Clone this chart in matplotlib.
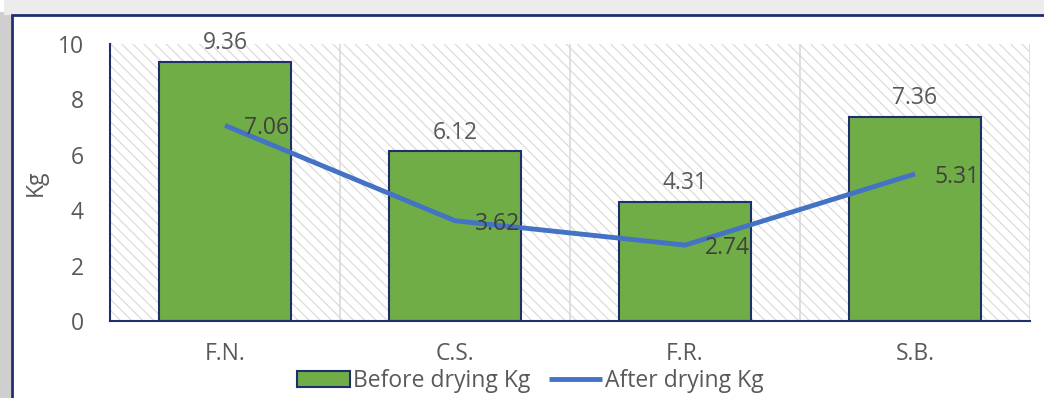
import matplotlib
matplotlib.use("Agg")
import matplotlib.pyplot as plt
from matplotlib.patches import Rectangle
import numpy as np

categories = ["F.N.", "C.S.", "F.R.", "S.B."]
before = [9.36, 6.12, 4.31, 7.36]
after = [7.06, 3.62, 2.74, 5.31]
yticks = [0, 2, 4, 6, 8, 10]

plt.rcParams['font.family'] = ['Open Sans', 'DejaVu Sans']
plt.rcParams['hatch.linewidth'] = 0.9
plt.rcParams['hatch.color'] = '#dcdcdc'

gray = '#595959'
navy = '#1f2f6e'
green = '#70ad47'
blue = '#4472c4'
FS = 16.5

fig = plt.figure(figsize=(10.44, 3.98), dpi=100)

# shadow and outer frame
fig.patches.append(Rectangle((0.0, 0.0), 0.011, 0.97, transform=fig.transFigure,
                             facecolor='#cfcfcf', edgecolor='none', zorder=0))
fig.patches.append(Rectangle((0.004, 0.962), 0.996, 0.038, transform=fig.transFigure,
                             facecolor='#ececec', edgecolor='none', zorder=0))
fig.patches.append(Rectangle((12/1044, -0.01), 1.0, (398-15)/398 + 0.01, transform=fig.transFigure,
                             facecolor='white', edgecolor=navy, linewidth=2.0, zorder=1))

ax = fig.add_axes([110/1044, 77/398, 920/1044, 277/398])
ax.set_zorder(2)
ax.patch.set_alpha(0)

x = np.arange(len(categories))
ax.set_xlim(-0.5, len(categories) - 0.5)
ax.set_ylim(0, 10)

# hatched background
ax.add_patch(Rectangle((-0.5, 0), len(categories), 10, facecolor='white',
                       edgecolor='#dcdcdc', hatch='\\\\\\', linewidth=0, zorder=0))
for b in np.arange(0.5, len(categories), 1.0):
    ax.axvline(b, color='#d9d9d9', linewidth=1.2, zorder=1)

bars = ax.bar(x, before, width=0.57, color=green, edgecolor=navy, linewidth=1.5,
              zorder=2, label='Before drying Kg')
line, = ax.plot(x, after, color=blue, linewidth=3.5, zorder=3, label='After drying Kg',
                solid_capstyle='butt')

for xi, v in zip(x, before):
    ax.annotate(f"{v:.2f}", (xi, v), xytext=(0, 5), textcoords='offset points',
                ha='center', va='bottom', fontsize=FS, color=gray, zorder=4)
for xi, v in zip(x, after):
    ax.annotate(f"{v:.2f}", (xi, v), xytext=(14, -2), textcoords='offset points',
                ha='left', va='center', fontsize=FS, color='#404040', zorder=4)

ax.set_yticks(yticks)
ax.set_yticklabels([str(t) for t in yticks], fontsize=FS, color=gray)
ax.set_xticks(x)
ax.set_xticklabels(categories, fontsize=FS, color=gray)
ax.tick_params(axis='both', length=0)
ax.tick_params(axis='y', pad=19)
ax.tick_params(axis='x', pad=15)
ax.set_ylabel('Kg', fontsize=FS, color=gray)
ax.yaxis.set_label_coords(-62/920, 0.5)

for s in ['top', 'right']:
    ax.spines[s].set_visible(False)
ax.spines['left'].set_color(navy)
ax.spines['left'].set_linewidth(1.5)
ax.spines['bottom'].set_color(navy)
ax.spines['bottom'].set_linewidth(1.5)

leg = fig.legend(handles=[bars, line], loc='center', bbox_to_anchor=(0.508, 17/398),
                 ncol=2, frameon=False, fontsize=FS, handlelength=2.3, handleheight=0.65,
                 handletextpad=0.15, columnspacing=0.8, labelcolor=gray)

fig.savefig('out.png', dpi=100)
